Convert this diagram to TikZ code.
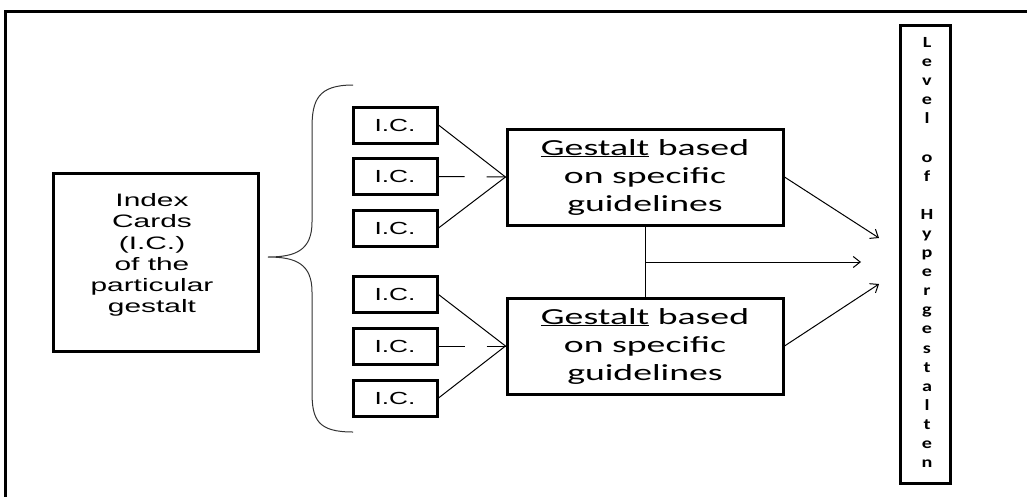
\documentclass[tikz,border=0pt]{standalone}
\usepackage{fontspec}
\usetikzlibrary{arrows.meta}
\newfontfamily\arialx[FakeStretch=1.66]{Liberation Sans}
\newfontfamily\arialic[FakeStretch=1.5]{Liberation Sans}
\newfontfamily\calx[FakeStretch=1.64]{Carlito}
\newfontfamily\calbx[FakeStretch=1.3]{Carlito Bold}
\begin{document}
\begin{tikzpicture}[x=1pt,y=-1pt,
  box/.style={draw, line width=3pt, inner sep=0pt},
  icbox/.style={box, minimum width=84pt, minimum height=36pt, font=\arialic\fontsize{17.5}{21}\selectfont},
  gbox/.style={box, minimum width=276pt, minimum height=96pt, align=center, font=\calx\fontsize{23}{28}\selectfont},
  conn/.style={line width=1pt},
  arr/.style={conn, -{Straight Barb[length=7pt,width=11pt,line width=1pt]}},
  brace/.style={line width=1pt, draw=black!80}]
\useasboundingbox (0,0) rectangle (1027,496);
% outer frame (only top and left edges visible)
\draw[line width=3pt] (1030,11) -- (5,11) -- (5,500);
% index cards box
\node[box, minimum width=205pt, minimum height=178pt] (idx) at (155.5,262) {};
\node[align=center, font=\arialx\fontsize{18}{21.2}\selectfont] (idxt) at (152,255)
  {Index\\Cards\\(I.C.)\\of the\\particular\\gestalt};
% brace
\coordinate (bt) at (353,85);
\coordinate (btip) at (268,257);
\coordinate (bb) at (353,432);
\draw[brace] (bt) .. controls (318,85) and (312,100) .. (312,128) -- (312,222)
  .. controls (312,250) and (296,257) .. (btip)
  .. controls (296,257) and (312,264) .. (312,292) -- (312,392)
  .. controls (312,420) and (318,432) .. (bb);
% IC boxes
\node[icbox] (ic1) at (395,125) {I.C.};
\node[icbox] (ic2) at (395,176.5) {I.C.};
\node[icbox] (ic3) at (395,228) {I.C.};
\node[icbox] (ic4) at (395,294.5) {I.C.};
\node[icbox] (ic5) at (395,346) {I.C.};
\node[icbox] (ic6) at (395,398) {I.C.};
% gestalt boxes
\node[gbox] (g1) at (645,177) {\underline{Gestalt} based\\on specific\\guidelines};
\node[gbox] (g2) at (645,346) {\underline{Gestalt} based\\on specific\\guidelines};
% level box
\node[box, minimum width=50pt, minimum height=458pt] (lev) at (925,254) {};
\node[align=center, font=\calbx\fontsize{15.5}{19.1}\selectfont] (levt) at (927,252.5)
  {L\\e\\v\\e\\l\\\mbox{}\\o\\f\\\mbox{}\\H\\y\\p\\e\\r\\g\\e\\s\\t\\a\\l\\t\\e\\n};
% IC -> gestalt connectors
\draw[conn] (ic1.east) -- (g1.west);
\draw[conn, dash pattern=on 26pt off 22pt on 30pt] (ic2.east) -- (g1.west);
\draw[conn] (ic3.east) -- (g1.west);
\draw[conn] (ic4.east) -- (g2.west);
\draw[conn, dash pattern=on 26pt off 22pt on 30pt] (ic5.east) -- (g2.west);
\draw[conn] (ic6.east) -- (g2.west);
% gestalt -> level
\coordinate (t1) at (879,238);
\coordinate (t2) at (861,262);
\coordinate (t3) at (879,284);
\coordinate (mid) at (645,262);
\draw[conn] (g1.south) -- (g2.north);
\draw[arr] (g1.east) -- (t1);
\draw[arr] (mid) -- (t2);
\draw[arr] (g2.east) -- (t3);
\end{tikzpicture}
\end{document}
